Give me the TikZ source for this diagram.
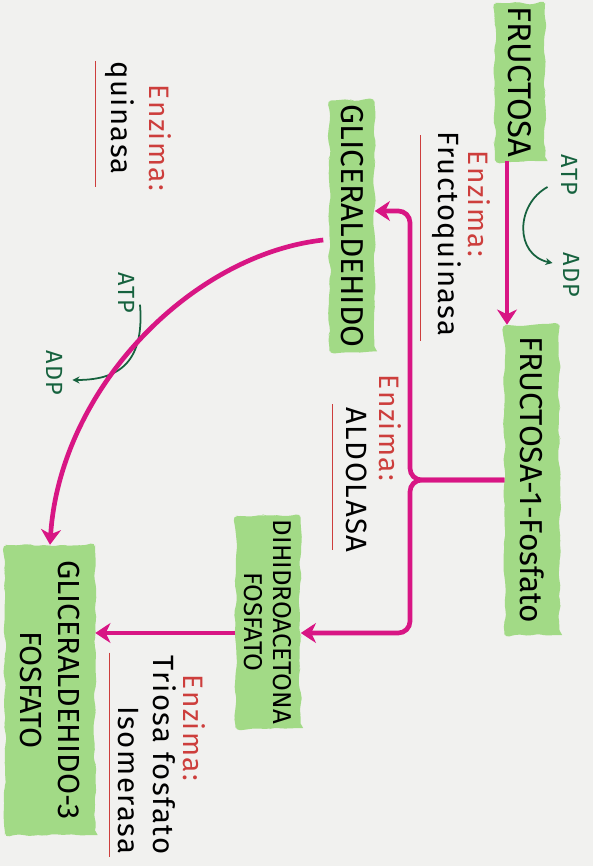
\documentclass[tikz,border=0pt]{standalone}
\usepackage{fontspec}
\setmainfont{Fira Sans}
\newfontfamily\handfont[LetterSpace=5]{Fira Sans}
\usetikzlibrary{arrows, arrows.meta, positioning, calc, decorations.pathmorphing}
\definecolor{paper}{RGB}{241,241,239}
\definecolor{blobgreen}{RGB}{162,218,134}
\definecolor{flowmag}{RGB}{216,22,132}
\definecolor{enzred}{RGB}{205,62,60}
\definecolor{atpgreen}{RGB}{22,98,62}

\begin{document}
\begin{tikzpicture}[
        x=0.03cm, y=0.03cm,
        blob/.style={rectangle, rotate=-90, fill=blobgreen, decorate, decoration={random steps, segment length=6pt, amplitude=1.5pt}, rounded corners=4pt, align=center, font=\fontsize{27}{32}\selectfont},
        enzlabel/.style={rotate=-90, inner sep=0pt, text=enzred, font=\handfont\fontsize{24}{28}\selectfont},
        enzname/.style={rotate=-90, inner sep=0pt, align=right, font=\handfont\fontsize{25}{30}\selectfont},
        cofactor/.style={rotate=-90, inner sep=1pt, text=atpgreen, font=\handfont\fontsize{20}{22}\selectfont},
        flow/.style={line width=4pt, draw=flowmag, ->, >={Stealth[length=13pt, width=17pt, inset=4pt]}},
        cofac/.style={line width=1.5pt, draw=atpgreen, ->, >={Stealth[length=6pt, width=6pt]}},
        uline/.style={line width=1.2pt, draw=enzred}
    ]
        \fill[paper] (0,0) rectangle (593,866);
        \useasboundingbox (0,0) rectangle (593,866);

        % Metabolites
        \node[blob, minimum width=4.65cm, minimum height=1.5cm, font=\fontsize{28}{32}\selectfont] (fru) at (520,784) {FRUCTOSA};
        \node[blob, minimum width=9.3cm, minimum height=1.65cm] (f1p) at (532,386) {FRUCTOSA-1-Fosfato};
        \node[blob, minimum width=7.5cm, minimum height=1.35cm] (gli) at (352,640) {GLICERALDEHIDO};
        \node[blob, minimum width=6cm, minimum height=1.95cm, font=\fontsize{22}{25}\selectfont] (dhap) at (268,244) {DIHIDROACETONA\\FOSFATO};
        \node[blob, minimum width=8.7cm, minimum height=2.7cm, font=\fontsize{26}{32}\selectfont] (g3p) at (50,176) {GLICERALDEHIDO-3\\FOSFATO};

        % Enzymes
        \node[enzlabel] (enz1) at (479,662) {Enzima:};
        \node[enzname] (fqk) at (447,632) {Fructoquinasa};
        \draw[uline] ($(fqk.south west)+(-12,-4)$) -- ($(fqk.south east)+(-12,-4)$);

        \node[enzlabel] (enz2) at (390,438) {Enzima:};
        \node[enzname] (ald) at (357,386) {ALDOLASA};
        \draw[uline] ($(ald.south west)+(-14,3)$) -- ($(ald.south east)+(-14,3)$);

        \node[enzlabel] (enz3) at (194,138) {Enzima:};
        \node[enzname] (tpi) at (147,111) {Triosa fosfato\\Isomerasa};
        \draw[uline] ($(tpi.south west)+(-8,3)$) -- ($(tpi.south east)+(-8,-3)$);

        \node[enzlabel] (enz4) at (160,728) {Enzima:};
        \node[enzname] (qui) at (120,748) {quinasa};
        \draw[uline] ($(qui.south west)+(-10,0)$) -- ($(qui.south east)+(-10,-12)$);

        % ATP / ADP
        \node[cofactor] (atp1) at (570,691) {ATP};
        \node[cofactor] (adp1) at (572,591) {ADP};
        \node[cofactor] (atp2) at (127,573) {ATP};
        \node[cofactor] (adp2) at (55,493) {ADP};
        \draw[cofac] ($(atp1.south)+(-13,-12)$) .. controls (515,661) and (515,611) .. ($(adp1.south)+(-10,12)$);
        \draw[cofac] ($(atp2.east)+(13,10)$) .. controls (145,500) and (115,486) .. ($(adp2.north)+(8,-7)$);

        % Arrows
        \coordinate (jn) at (410,386);
        \coordinate (glitip) at ($(gli.north)+(0,15)$);
        \coordinate (dhtip) at ($(dhap.north)+(0,-11)$);
        \coordinate (dhout) at ($(dhap.south)+(0,-11)$);
        \draw[flow] ($(fru.east)+(-13,0)$) -- ($(f1p.west)+(-25,0)$);
        \draw[flow, rounded corners=10pt] (f1p.south) -- (jn) |- (glitip);
        \draw[flow, rounded corners=10pt] (f1p.south) -- (jn) |- (dhtip);
        \draw[flow] (dhout) -- (dhout -| g3p.north);
        \draw[flow] ($(gli.south)+(-6,-14)$) .. controls (190,611) and (60,476) .. (g3p.west);
    \end{tikzpicture}
\end{document}
